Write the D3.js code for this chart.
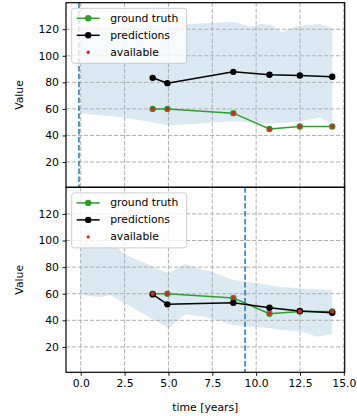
<!DOCTYPE html>
<html>
<head>
<meta charset="utf-8">
<script src="https://cdn.jsdelivr.net/npm/d3@7"></script>
<style>
  html, body { margin: 0; padding: 0; background: #fff; }
  svg { display: block; font-family: "DejaVu Sans", sans-serif; }
</style>
</head>
<body>
<svg id="chart" width="357" height="416"></svg>
<script>
// Visit times (years) and observed values
const visitTimes = [4.1, 4.94, 8.7, 10.76, 12.49, 14.34];
const groundTruth = [60, 60, 56.8, 44.9, 46.7, 46.7];

// Predictions from the first model run (cut-off before first visit)
const predTop = [83.4, 79.4, 87.9, 85.7, 85.2, 84.2];
// Predictions from the second model run (cut-off at 9.37 years)
const predBottom = [59.5, 52.0, 53.2, 49.5, 47.0, 45.7];

// Uncertainty band, first run
const bandTopT     = [0, 2.5, 5.1, 8.7, 9.66, 10.3, 10.9, 11.47, 12.3, 13.65, 14.34];
const bandTopHigh  = [122, 123, 123.2, 125.7, 121.9, 124, 123, 117.7, 122.4, 123.9, 120.7];
const bandTopLow   = [56.5, 53.5, 47.5, 50.7, 49.8, 49.2, 49, 49.6, 50.2, 53.5, 49];

// Uncertainty band, second run
const bandBotT     = [0, 1.1, 1.67, 2.62, 5.0, 5.95, 6.98, 7.38, 8.69, 10.78, 11.33, 12.65, 13.46, 14.34];
const bandBotHigh  = [98, 98.5, 99, 89, 75.3, 82.4, 77.8, 77, 70.3, 66.5, 65.3, 64, 63.4, 62.8];
const bandBotLow   = [59, 57.3, 59, 52, 34, 44.5, 42.7, 41.5, 36.4, 34, 33, 31.4, 27.6, 29.7];

// Prediction cut-off times
const cutoffs = [-0.1, 9.37];

const xTicks = [0, 2.5, 5, 7.5, 10, 12.5, 15];
const yTicks = [20, 40, 60, 80, 100, 120];

const legendItems = ["ground truth", "predictions", "available"];

const COLORS = { gt: "#2ca02c", pred: "#000000", avail: "#d62728", band: "#1f77b4", grid: "#b0b0b0" };

const svg = d3.select("#chart");
const left = 66, right = 344.7;
const panels = [
  { top: 2.7, bottom: 187.3, pred: predTop, bt: bandTopT, bh: bandTopHigh, bl: bandTopLow, cut: cutoffs[0] },
  { top: 187.3, bottom: 372.3, pred: predBottom, bt: bandBotT, bh: bandBotHigh, bl: bandBotLow, cut: cutoffs[1] }
];

const x = d3.scaleLinear().domain([-0.84, 15.05]).range([left, right]);

panels.forEach((p, i) => {
  const y = d3.scaleLinear().domain([0.93, 140]).range([p.bottom, p.top]);
  const g = svg.append("g");
  const clipId = "clip" + i;
  svg.append("clipPath").attr("id", clipId)
    .append("rect").attr("x", left).attr("y", p.top).attr("width", right - left).attr("height", p.bottom - p.top);
  const plot = g.append("g").attr("clip-path", `url(#${clipId})`);

  // uncertainty band
  const area = d3.area()
    .x((d, k) => x(p.bt[k]))
    .y0((d, k) => y(p.bl[k]))
    .y1((d, k) => y(p.bh[k]));
  plot.append("path").datum(p.bt).attr("d", area)
    .attr("fill", COLORS.band).attr("fill-opacity", 0.16);

  // grid
  plot.selectAll(".gx").data(xTicks).join("line")
    .attr("x1", d => x(d)).attr("x2", d => x(d)).attr("y1", p.top).attr("y2", p.bottom)
    .attr("stroke", COLORS.grid).attr("stroke-width", 1).attr("stroke-dasharray", "4.2,1.8");
  plot.selectAll(".gy").data(yTicks).join("line")
    .attr("x1", left).attr("x2", right).attr("y1", d => y(d)).attr("y2", d => y(d))
    .attr("stroke", COLORS.grid).attr("stroke-width", 1).attr("stroke-dasharray", "4.2,1.8");

  // cut-off line
  plot.append("line")
    .attr("x1", x(p.cut)).attr("x2", x(p.cut)).attr("y1", p.top).attr("y2", p.bottom)
    .attr("stroke", COLORS.band).attr("stroke-width", 1.5).attr("stroke-dasharray", "5.5,2.4");

  const line = d3.line().x((d, k) => x(visitTimes[k])).y(d => y(d));

  // ground truth
  plot.append("path").datum(groundTruth).attr("d", line)
    .attr("fill", "none").attr("stroke", COLORS.gt).attr("stroke-width", 1.5);
  plot.selectAll(".gtm").data(groundTruth).join("circle")
    .attr("cx", (d, k) => x(visitTimes[k])).attr("cy", d => y(d)).attr("r", 3.2).attr("fill", COLORS.gt);

  // predictions
  plot.append("path").datum(p.pred).attr("d", line)
    .attr("fill", "none").attr("stroke", COLORS.pred).attr("stroke-width", 1.5);
  plot.selectAll(".pm").data(p.pred).join("circle")
    .attr("cx", (d, k) => x(visitTimes[k])).attr("cy", d => y(d)).attr("r", 3.2).attr("fill", COLORS.pred);

  // available observations
  plot.selectAll(".am").data(groundTruth).join("circle")
    .attr("cx", (d, k) => x(visitTimes[k])).attr("cy", d => y(d)).attr("r", 2.2).attr("fill", COLORS.avail);

  // frame
  g.append("rect").attr("x", left).attr("y", p.top).attr("width", right - left).attr("height", p.bottom - p.top)
    .attr("fill", "none").attr("stroke", "#000").attr("stroke-width", 1.2);

  // y axis
  const yAxis = d3.axisLeft(y).tickValues(yTicks).tickFormat(d3.format("d")).tickSize(3.5).tickPadding(3.5);
  const ya = g.append("g").attr("transform", `translate(${left},0)`).call(yAxis);
  ya.select(".domain").remove();
  ya.selectAll("line").attr("stroke", "#000").attr("stroke-width", 0.9);
  ya.selectAll("text").attr("font-size", 10.8).attr("font-family", "DejaVu Sans").attr("fill", "#000");

  g.append("text").attr("transform", `translate(20,${(p.top + p.bottom) / 2}) rotate(-90)`)
    .attr("text-anchor", "middle").attr("dominant-baseline", "middle")
    .attr("font-size", 10.8).text("Value");

  // legend
  const lx = 71.7, ly = p.top + 5.6;
  const lg = g.append("g");
  lg.append("rect").attr("x", lx).attr("y", ly).attr("width", 115).attr("height", 55).attr("rx", 2.5)
    .attr("fill", "#fff").attr("fill-opacity", 0.8).attr("stroke", "#cccccc").attr("stroke-width", 1);
  legendItems.forEach((name, k) => {
    const cy = ly + 10 + k * 17;
    if (k < 2) {
      const c = k === 0 ? COLORS.gt : COLORS.pred;
      lg.append("line").attr("x1", lx + 5).attr("x2", lx + 28).attr("y1", cy).attr("y2", cy)
        .attr("stroke", c).attr("stroke-width", 1.5);
      lg.append("circle").attr("cx", lx + 16.5).attr("cy", cy).attr("r", 3.2).attr("fill", c);
    } else {
      lg.append("circle").attr("cx", lx + 16.5).attr("cy", cy).attr("r", 1.7).attr("fill", COLORS.avail);
    }
    lg.append("text").attr("x", lx + 38.5).attr("y", cy).attr("dominant-baseline", "central")
      .attr("font-size", 10.8).text(name);
  });

  if (i === 1) {
    const xAxis = d3.axisBottom(x).tickValues(xTicks).tickFormat(d3.format(".1f")).tickSize(3.5).tickPadding(3.5);
    const xa = g.append("g").attr("transform", `translate(0,${p.bottom})`).call(xAxis);
    xa.select(".domain").remove();
    xa.selectAll("line").attr("stroke", "#000").attr("stroke-width", 0.9);
    xa.selectAll("text").attr("font-size", 10.8).attr("font-family", "DejaVu Sans").attr("fill", "#000");
    g.append("text").attr("x", (left + right) / 2).attr("y", 410.5).attr("text-anchor", "middle")
      .attr("font-size", 10.8).text("time [years]");
  }
});
</script>
</body>
</html>
